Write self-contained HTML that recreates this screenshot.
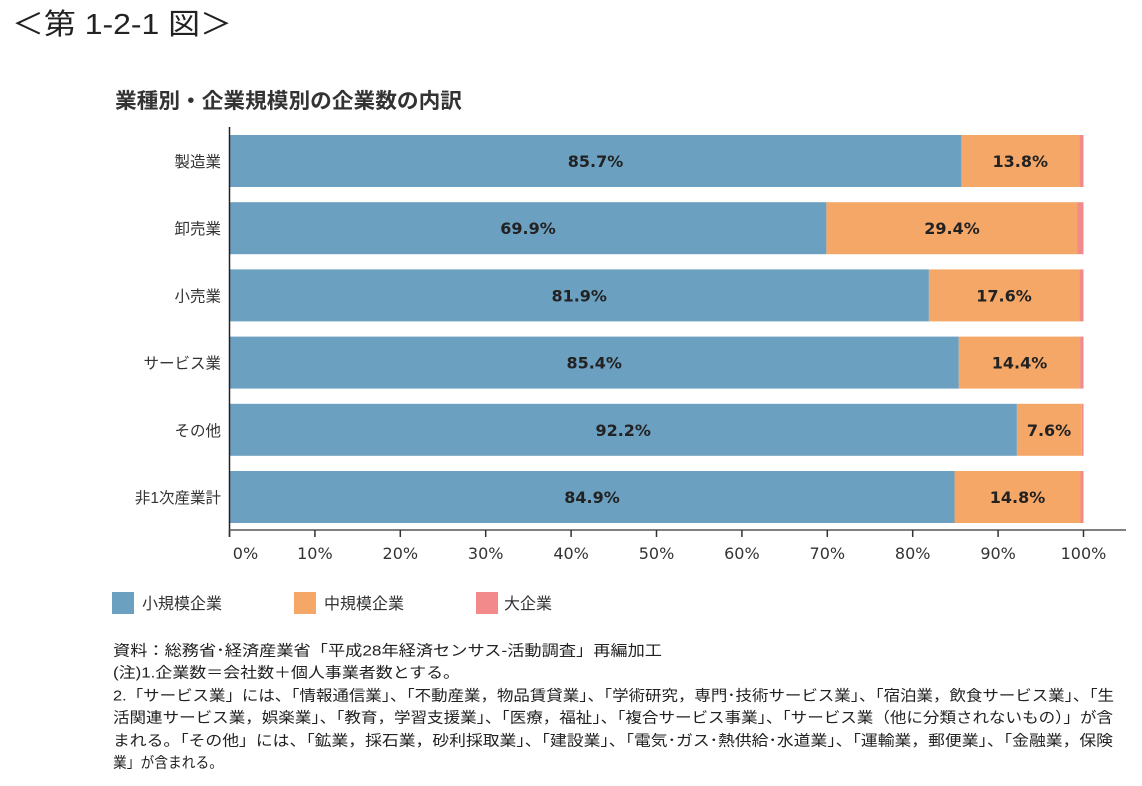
<!DOCTYPE html>
<html><head><meta charset="utf-8">
<style>
html,body{margin:0;padding:0;background:#fff;}
svg{display:block;}
</style></head>
<body>
<svg width="1142" height="786" viewBox="0 0 1142 786" xmlns="http://www.w3.org/2000/svg">
<rect width="1142" height="786" fill="#fff"/>
<text x="12" y="34" font-family="'Liberation Sans','Noto Sans CJK JP',sans-serif" font-size="29" fill="#222" textLength="220" lengthAdjust="spacingAndGlyphs">＜第 1-2-1 図＞</text>
<text x="115" y="108" font-family="'Liberation Sans','Noto Sans CJK JP',sans-serif" font-size="21" font-weight="bold" fill="#333" textLength="347" lengthAdjust="spacingAndGlyphs">業種別・企業規模別の企業数の内訳</text>

<g id="bars">
<rect x="229.5" y="135" width="731.9" height="52" fill="#6ca0c1"/>
<rect x="961.4" y="135" width="117.8" height="52" fill="#f5a767"/>
<rect x="1079.2" y="135" width="4.3" height="52" fill="#f28a8c"/>
<rect x="229.5" y="202.2" width="596.9" height="52" fill="#6ca0c1"/>
<rect x="826.4" y="202.2" width="251.1" height="52" fill="#f5a767"/>
<rect x="1077.5" y="202.2" width="6" height="52" fill="#f28a8c"/>
<rect x="229.5" y="269.4" width="699.4" height="52" fill="#6ca0c1"/>
<rect x="928.9" y="269.4" width="150.3" height="52" fill="#f5a767"/>
<rect x="1079.2" y="269.4" width="4.3" height="52" fill="#f28a8c"/>
<rect x="229.5" y="336.6" width="729.3" height="52" fill="#6ca0c1"/>
<rect x="958.8" y="336.6" width="121.3" height="52" fill="#f5a767"/>
<rect x="1080.1" y="336.6" width="3.4" height="52" fill="#f28a8c"/>
<rect x="229.5" y="403.8" width="787.4" height="52" fill="#6ca0c1"/>
<rect x="1016.9" y="403.8" width="64.9" height="52" fill="#f5a767"/>
<rect x="1081.8" y="403.8" width="1.7" height="52" fill="#f28a8c"/>
<rect x="229.5" y="471" width="725" height="52" fill="#6ca0c1"/>
<rect x="954.5" y="471" width="126" height="52" fill="#f5a767"/>
<rect x="1080.5" y="471" width="3" height="52" fill="#f28a8c"/>
</g>

<g font-family="'DejaVu Sans','Liberation Sans',sans-serif" font-size="16" font-weight="bold" fill="#222" text-anchor="middle">
<text x="595.5" y="167">85.7%</text>
<text x="1020.3" y="167">13.8%</text>
<text x="528" y="234.2">69.9%</text>
<text x="952" y="234.2">29.4%</text>
<text x="579.2" y="301.4">81.9%</text>
<text x="1004" y="301.4">17.6%</text>
<text x="594.2" y="368.6">85.4%</text>
<text x="1019.5" y="368.6">14.4%</text>
<text x="623.2" y="435.8">92.2%</text>
<text x="1049" y="435.8">7.6%</text>
<text x="592" y="503">84.9%</text>
<text x="1017.5" y="503">14.8%</text>
</g>

<g font-family="'Liberation Sans','Noto Sans CJK JP',sans-serif" font-size="15.5" fill="#333" text-anchor="end">
<text x="221" y="167">製造業</text>
<text x="221" y="234.2">卸売業</text>
<text x="221" y="301.4">小売業</text>
<text x="221" y="368.6">サービス業</text>
<text x="221" y="435.8">その他</text>
<text x="221" y="503">非1次産業計</text>
</g>

<line x1="229.5" y1="127" x2="229.5" y2="537" stroke="#222" stroke-width="1.5"/>
<line x1="229" y1="530" x2="1126" y2="530" stroke="#555" stroke-width="1.5"/>
<g stroke="#333" stroke-width="1.5">
<line x1="229.5" y1="530" x2="229.5" y2="537"/>
<line x1="314.9" y1="530" x2="314.9" y2="537"/>
<line x1="400.3" y1="530" x2="400.3" y2="537"/>
<line x1="485.7" y1="530" x2="485.7" y2="537"/>
<line x1="571.1" y1="530" x2="571.1" y2="537"/>
<line x1="656.5" y1="530" x2="656.5" y2="537"/>
<line x1="741.9" y1="530" x2="741.9" y2="537"/>
<line x1="827.3" y1="530" x2="827.3" y2="537"/>
<line x1="912.7" y1="530" x2="912.7" y2="537"/>
<line x1="998.1" y1="530" x2="998.1" y2="537"/>
<line x1="1083.5" y1="530" x2="1083.5" y2="537"/>
</g>
<g font-family="'DejaVu Sans','Liberation Sans',sans-serif" font-size="16" fill="#333" text-anchor="middle">
<text x="245.5" y="559">0%</text>
<text x="314.9" y="559">10%</text>
<text x="400.3" y="559">20%</text>
<text x="485.7" y="559">30%</text>
<text x="571.1" y="559">40%</text>
<text x="656.5" y="559">50%</text>
<text x="741.9" y="559">60%</text>
<text x="827.3" y="559">70%</text>
<text x="912.7" y="559">80%</text>
<text x="998.1" y="559">90%</text>
<text x="1083.5" y="559">100%</text>
</g>

<rect x="112" y="592" width="22" height="22" fill="#6ca0c1"/>
<rect x="294" y="592" width="22" height="22" fill="#f5a767"/>
<rect x="476" y="592" width="22" height="22" fill="#f28a8c"/>
<g font-family="'Liberation Sans','Noto Sans CJK JP',sans-serif" font-size="16" fill="#333">
<text x="142" y="609">小規模企業</text>
<text x="324" y="609">中規模企業</text>
<text x="504" y="609">大企業</text>
</g>

<g font-family="'Liberation Sans','Noto Sans CJK JP',sans-serif" font-size="15" fill="#222">
<text x="113" y="655.5" textLength="549" lengthAdjust="spacingAndGlyphs">資料：総務省･経済産業省「平成28年経済センサス-活動調査」再編加工</text>
<text x="113" y="677.5" textLength="347" lengthAdjust="spacingAndGlyphs">(注)1.企業数＝会社数＋個人事業者数とする。</text>
<text x="113" y="700.5" textLength="1001" lengthAdjust="spacingAndGlyphs">2.「サービス業」には、「情報通信業」、「不動産業，物品賃貸業」、「学術研究，専門･技術サービス業」、「宿泊業，飲食サービス業」、「生</text>
<text x="113" y="722.5" textLength="1000" lengthAdjust="spacingAndGlyphs">活関連サービス業，娯楽業」、「教育，学習支援業」、「医療，福祉」、「複合サービス事業」、「サービス業（他に分類されないもの）」が含</text>
<text x="113" y="745.5" textLength="1000" lengthAdjust="spacingAndGlyphs">まれる。「その他」には、「鉱業，採石業，砂利採取業」、「建設業」、「電気･ガス･熱供給･水道業」、「運輸業，郵便業」、「金融業，保険</text>
<text x="113" y="767.5" textLength="110" lengthAdjust="spacingAndGlyphs">業」が含まれる。</text>
</g>
</svg>
</body></html>
